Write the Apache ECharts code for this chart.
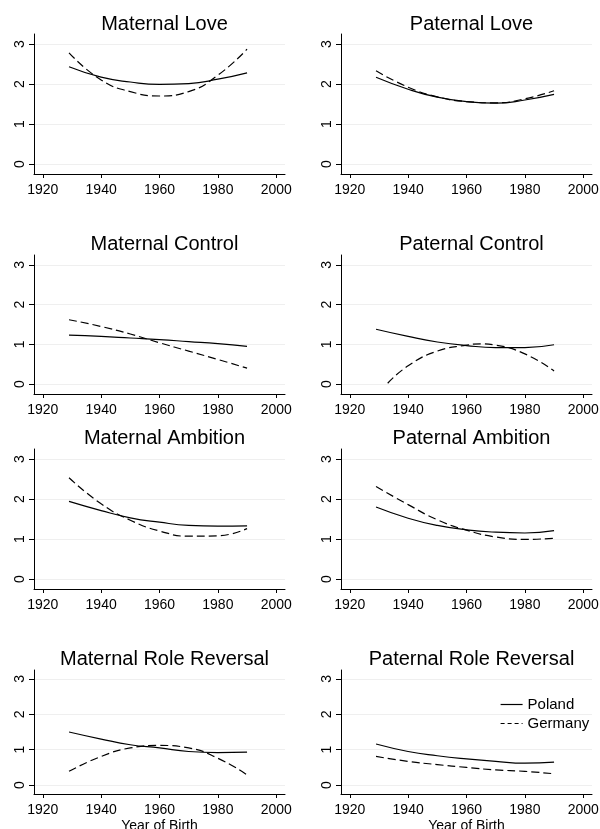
<!DOCTYPE html>
<html>
<head>
<meta charset="utf-8">
<script src="https://cdn.jsdelivr.net/npm/echarts@6/dist/echarts.min.js"></script>
<style>
  html, body { margin: 0; padding: 0; background: #fff; }
  #chart { width: 600px; height: 829px; }
</style>
</head>
<body>
<div id="chart"></div>
<script>
const years = [1929, 1940, 1950, 1960, 1970, 1980, 1990];
const yearsPaternalControlGermany = [1933, 1940, 1950, 1960, 1965, 1970, 1980, 1990];

const panelTitles = [
    'Maternal Love', 'Paternal Love',
    'Maternal Control', 'Paternal Control',
    'Maternal Ambition', 'Paternal Ambition',
    'Maternal Role Reversal', 'Paternal Role Reversal'
];

const xTicks = [1920, 1940, 1960, 1980, 2000];
const yTicks = [0, 1, 2, 3];

// Poland (solid) / Germany (dashed)
const maternalLovePoland = [2.43, 2.17, 2.05, 1.99, 2.01, 2.12, 2.28];
const maternalLoveGermany = [2.78, 2.1, 1.81, 1.7, 1.81, 2.22, 2.87];
const paternalLovePoland = [2.17, 1.87, 1.67, 1.56, 1.52, 1.6, 1.74];
const paternalLoveGermany = [2.33, 1.92, 1.68, 1.56, 1.53, 1.63, 1.83];
const maternalControlPoland = [1.23, 1.2, 1.16, 1.12, 1.07, 1.02, 0.95];
const maternalControlGermany = [1.62, 1.45, 1.26, 1.04, 0.83, 0.62, 0.4];
const paternalControlPoland = [1.38, 1.2, 1.06, 0.97, 0.92, 0.92, 0.99];
const paternalControlGermany = [0.02, 0.46, 0.83, 0.98, 1.01, 0.98, 0.76, 0.33];
const maternalAmbitionPoland = [1.94, 1.71, 1.53, 1.42, 1.34, 1.32, 1.33];
const maternalAmbitionGermany = [2.53, 1.88, 1.47, 1.2, 1.07, 1.08, 1.26];
const paternalAmbitionPoland = [1.8, 1.52, 1.34, 1.23, 1.17, 1.15, 1.21];
const paternalAmbitionGermany = [2.31, 1.86, 1.48, 1.22, 1.05, 0.99, 1.02];
const maternalReversalPoland = [1.5, 1.3, 1.14, 1.05, 0.95, 0.92, 0.93];
const maternalReversalGermany = [0.39, 0.81, 1.05, 1.12, 1.05, 0.76, 0.29];
const paternalReversalPoland = [1.16, 0.95, 0.83, 0.74, 0.67, 0.62, 0.65];
const paternalReversalGermany = [0.81, 0.67, 0.58, 0.5, 0.43, 0.39, 0.32];

const panels = [
    [maternalLovePoland, maternalLoveGermany, years],
    [paternalLovePoland, paternalLoveGermany, years],
    [maternalControlPoland, maternalControlGermany, years],
    [paternalControlPoland, paternalControlGermany, yearsPaternalControlGermany],
    [maternalAmbitionPoland, maternalAmbitionGermany, years],
    [paternalAmbitionPoland, paternalAmbitionGermany, years],
    [maternalReversalPoland, maternalReversalGermany, years],
    [paternalReversalPoland, paternalReversalGermany, years]
];

const font = 'Liberation Sans, Arial, Helvetica, sans-serif';

// plot boxes in px (left, top, height) per panel; width is the same
const colLeft = [34, 341];
const rowTop = [34, 255, 449, 670];
const rowHeight = [140, 139, 140, 124];
const titleTop = [9, 229, 423, 644];
const plotWidth = 251;

const chart = echarts.init(document.getElementById('chart'), null, { renderer: 'canvas' });

const grid = [];
const xAxis = [];
const yAxis = [];
const title = [];
const series = [];

const pairs = (xs, ys) => ys.map((v, i) => [xs[i], v]);

panels.forEach((p, i) => {
    const row = Math.floor(i / 2);
    const col = i % 2;
    grid.push({
        left: colLeft[col],
        top: rowTop[row],
        width: plotWidth,
        height: rowHeight[row],
        containLabel: false,
        outerBoundsMode: 'none'
    });
    title.push({
        text: panelTitles[i],
        left: colLeft[col] + plotWidth / 2,
        top: titleTop[row],
        textAlign: 'center',
        textStyle: { fontFamily: font, fontSize: 20, fontWeight: 'normal', color: '#000' }
    });
    xAxis.push({
        type: 'value',
        gridIndex: i,
        min: 1917,
        max: 2003,
        name: row === 3 ? 'Year of Birth' : '',
        nameLocation: 'middle',
        nameGap: 25,
        nameTextStyle: { fontFamily: font, fontSize: 14, color: '#000', verticalAlign: 'top' },
        axisLine: { show: true, onZero: false, lineStyle: { color: '#000', width: 1 } },
        axisTick: { show: true, length: 4, customValues: xTicks, lineStyle: { color: '#000' } },
        axisLabel: {
            customValues: xTicks, margin: 9, fontFamily: font, fontSize: 14, color: '#000',
            formatter: v => String(v)
        },
        splitLine: { show: false }
    });
    yAxis.push({
        type: 'value',
        gridIndex: i,
        min: -0.25,
        max: 3.25,
        axisLine: { show: true, onZero: false, lineStyle: { color: '#000', width: 1 } },
        axisTick: { show: true, length: 5, customValues: yTicks, lineStyle: { color: '#000' } },
        axisLabel: { customValues: yTicks, rotate: 90, margin: 7, fontFamily: font, fontSize: 14, color: '#000' },
        splitLine: { show: true, lineStyle: { color: '#efefef', width: 1 } }
    });
    series.push({
        name: 'Poland',
        type: 'line',
        xAxisIndex: i,
        yAxisIndex: i,
        data: pairs(years, p[0]),
        smooth: true,
        symbol: 'none',
        lineStyle: { color: '#000', width: 1.2, type: 'solid' },
        itemStyle: { color: '#000' }
    });
    series.push({
        name: 'Germany',
        type: 'line',
        xAxisIndex: i,
        yAxisIndex: i,
        data: pairs(p[2], p[1]),
        smooth: true,
        symbol: 'none',
        lineStyle: { color: '#000', width: 1.2, type: [8, 4] },
        itemStyle: { color: '#000' }
    });
});

chart.setOption({
    backgroundColor: '#fff',
    animation: false,
    title: title,
    grid: grid,
    xAxis: xAxis,
    yAxis: yAxis,
    legend: {
        orient: 'vertical',
        left: 495,
        top: 692,
        itemWidth: 22,
        itemHeight: 14,
        itemGap: 4,
        itemStyle: { opacity: 0 },
        textStyle: { fontFamily: font, fontSize: 15, color: '#000' },
        data: [
            { name: 'Poland', lineStyle: { type: 'solid', width: 1.2 } },
            { name: 'Germany', lineStyle: { type: [4, 3], width: 1.2 } }
        ]
    },
    series: series
});
</script>
</body>
</html>
